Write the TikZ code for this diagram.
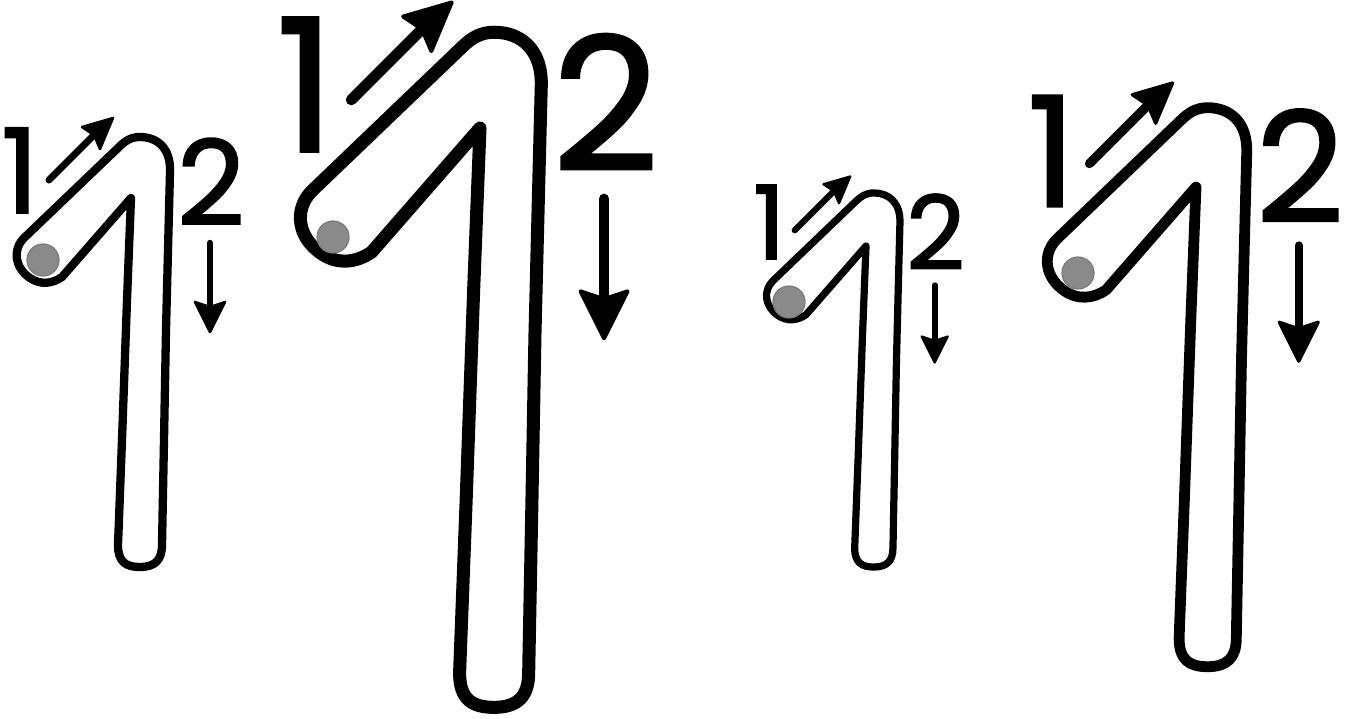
\documentclass[tikz,border=0pt]{standalone}
\usepackage{fontspec}
\setmainfont{Poppins}
\newfontfamily\labelfont{Poppins}[FakeBold=1.5]
\definecolor{dotfill}{RGB}{138,138,138}
\definecolor{dotedge}{RGB}{122,122,122}
\tikzset{
  outline/.style={draw=black, line join=round, line cap=round},
  shaft/.style={draw=black, line cap=round},
  head/.style={fill=black, draw=black, line join=round},
  numlabel/.style={inner sep=0pt, anchor=base, font=\labelfont\fontsize{118}{118}\selectfont},
  startdot/.style={fill=dotfill, draw=dotedge, line width=1.2pt}
}
% #1 name, #2 x of apex, #3 y of apex, #4 scale
\newcommand{\stepdigit}[4]{%
  \pgfmathsetmacro{\lwout}{8.3*#4}%
  \pgfmathsetmacro{\lwarr}{7*#4}%
  \pgfmathsetmacro{\lwdown}{6.5*#4}%
  \pgfmathsetmacro{\lwhead}{2.5*#4}%
  \begin{scope}[shift={(#2,#3)}, scale=#4, shift={(-131,-198)}, transform shape]
    \draw[outline, line width=\lwout pt]
      (131,198) -- (127,300) -- (122,440) -- (118,545)
      .. controls (118,562) and (126,567) .. (140,567)
      .. controls (155,567) and (162,560) .. (162,545)
      -- (164,440) -- (166,330) -- (168,250) -- (170,172)
      .. controls (171,148) and (157,137) .. (140,137)
      .. controls (131,137) and (125,141) .. (119,147)
      -- (24,238)
      .. controls (12,250) and (15,268) .. (30,278)
      .. controls (40,285) and (52,284) .. (62,277)
      -- cycle;
    \node[numlabel] (#1-one) at (20,213) {1};
    \node[numlabel] (#1-two) at (211,225) {2};
    \coordinate (#1-ua) at (49,180);
    \coordinate (#1-ub) at (98,131);
    \draw[shaft, line width=\lwarr pt] (#1-ua) -- (#1-ub);
    \draw[head, line width=\lwhead pt] (113,118) -- (82,127) -- (94,135) -- (100,149) -- cycle;
    \coordinate (#1-da) at (210,243);
    \coordinate (#1-db) at (210,310);
    \draw[shaft, line width=\lwdown pt] (#1-da) -- (#1-db);
    \draw[head, line width=\lwhead pt] (210,332) -- (195,302) -- (210,307) -- (225,302) -- cycle;
  \end{scope}%
}
\begin{document}
\begin{tikzpicture}[x=1pt, y=-1pt]
  \fill[white] (0,0) rectangle (1355,718);
  \useasboundingbox (0,0) rectangle (1355,718);
  \stepdigit{ga}{131}{198}{1}
  \stepdigit{gb}{480}{128}{1.57}
  \stepdigit{gc}{866}{246}{0.87}
  \stepdigit{gd}{1196}{187}{1.30}
  \draw[startdot] (43,260) circle[radius=16];
  \draw[startdot] (333,237) circle[radius=16];
  \draw[startdot] (789,302) circle[radius=16];
  \draw[startdot] (1078,273) circle[radius=16];
\end{tikzpicture}
\end{document}
